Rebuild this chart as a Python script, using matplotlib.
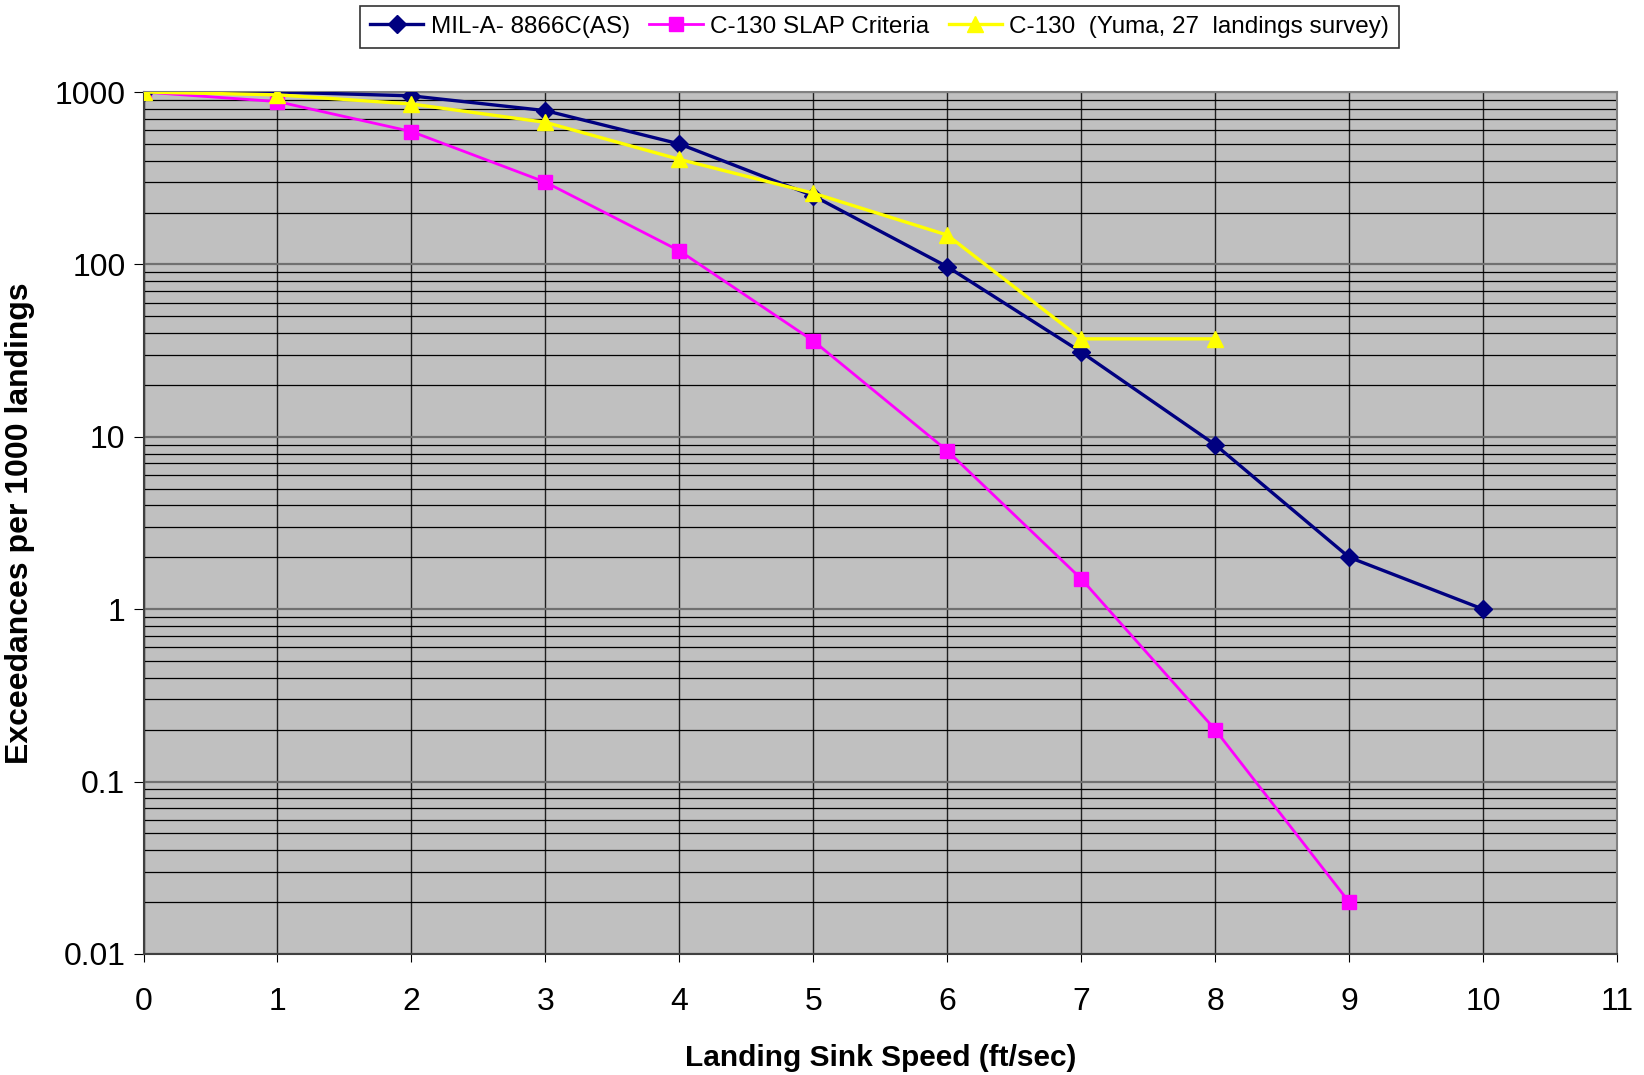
import numpy as np
import matplotlib.pyplot as plt
from matplotlib.ticker import LogLocator, FixedFormatter, FixedLocator

plt.rcParams['font.family'] = ['Liberation Sans', 'DejaVu Sans']

# dados #
x_mil  = [0, 1, 2, 3, 4, 5, 6, 7, 8, 9, 10]
y_mil  = [1000, 1000, 950, 780, 500, 250, 97, 31, 9, 2, 1]
x_slap = [0, 1, 2, 3, 4, 5, 6, 7, 8, 9]
y_slap = [1000, 880, 590, 300, 120, 36, 8.3, 1.5, 0.2, 0.02]
x_yuma = [0, 1, 2, 3, 4, 5, 6, 7, 8]
y_yuma = [1000, 963, 852, 667, 407, 259, 148, 37, 37]

labels = ["MIL-A- 8866C(AS)", "C-130 SLAP Criteria", "C-130  (Yuma, 27  landings survey)"]
yticks = [0.01, 0.1, 1, 10, 100, 1000]
ytick_labels = ["0.01", "0.1", "1", "10", "100", "1000"]

fig = plt.figure(figsize=(16.44, 10.75), dpi=100)
ax = fig.add_axes([0.0873, 0.1126, 0.8963, 0.8018])
ax.set_facecolor('#C0C0C0')

ax.plot(x_mil, y_mil, color='#000080', lw=2.4, marker='D', ms=9, label=labels[0], zorder=5)
ax.plot(x_slap, y_slap, color='#FF00FF', lw=2.0, marker='s', ms=10, label=labels[1], zorder=4)
ax.plot(x_yuma, y_yuma, color='#FFFF00', lw=2.4, marker='^', ms=12, label=labels[2], zorder=6)

ax.set_yscale('log')
ax.set_ylim(0.01, 1000)
ax.set_xlim(0, 11)
ax.yaxis.set_major_locator(FixedLocator(yticks))
ax.yaxis.set_major_formatter(FixedFormatter(ytick_labels))
ax.yaxis.set_minor_locator(LogLocator(base=10, subs=np.arange(2, 10), numticks=20))
ax.set_xticks(range(0, 12))

# grid #
ax.grid(which='major', axis='y', color='#707070', lw=1.6, zorder=1)
ax.grid(which='minor', axis='y', color='black', lw=0.9, zorder=1)
ax.grid(which='major', axis='x', color='#202020', lw=1.0, zorder=1)
ax.set_axisbelow(True)

ax.tick_params(axis='y', which='major', direction='out', length=7, labelsize=23, pad=6)
ax.tick_params(axis='y', which='minor', length=0)
ax.tick_params(axis='x', which='major', direction='out', length=6, labelsize=23, pad=18)

for s in ['left', 'bottom']:
    ax.spines[s].set_color('#404040')
    ax.spines[s].set_linewidth(1.5)
for s in ['top', 'right']:
    ax.spines[s].set_color('#808080')
    ax.spines[s].set_linewidth(1.5)

ax.set_xlabel("Landing Sink Speed (ft/sec)", fontsize=21.5, fontweight='bold', labelpad=19)
ax.set_ylabel("Exceedances per 1000 landings", fontsize=23, fontweight='bold', labelpad=14)

leg = fig.legend(loc='upper center', bbox_to_anchor=(0.535, 1.0), ncol=3, fontsize=17.5,
                 frameon=True, fancybox=False, edgecolor='black', handlelength=2.2,
                 columnspacing=0.8, handletextpad=0.3, borderpad=0.4, borderaxespad=0.25)
leg.get_frame().set_linewidth(1.2)

fig.savefig('out.png', dpi=100)
